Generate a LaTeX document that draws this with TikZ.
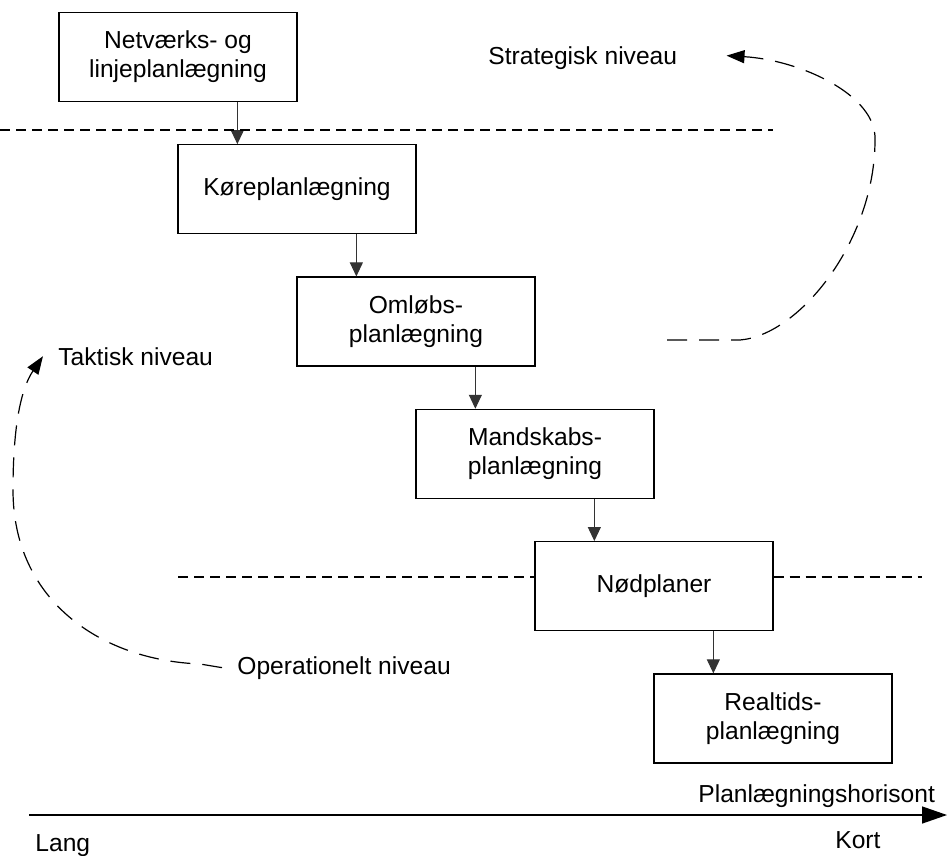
\documentclass[tikz,border=0pt]{standalone}
\usepackage{fontspec}
\setmainfont{Liberation Sans}
\usetikzlibrary{positioning}
\usetikzlibrary{arrows.meta}

\tikzset{
  planbox/.style={rectangle, draw, line width=0.65pt, minimum width=119pt, minimum height=44.5pt, align=center, font=\fontsize{12.3}{14.5}\selectfont},
  flow/.style={->, draw=black!80, line width=0.5pt},
  tier/.style={font=\fontsize{12.3}{14.5}\selectfont, inner sep=0pt, anchor=base west},
  divider/.style={line width=0.6pt, dash pattern=on 5pt off 3pt},
  feedback/.style={-{Triangle[length=9pt,width=6.5pt]}, line width=0.6pt, dash pattern=on 10pt off 6pt},
}

\begin{document}
\begin{tikzpicture}[x=0.5pt,y=-0.5pt,>={Triangle[length=7pt,width=6.5pt]}]
	\useasboundingbox (0,0) rectangle (947,856);
	% planning boxes
	\node [planbox] (netv) at (178,57) {Netværks- og\\linjeplanlægning};
	\node [planbox, below=21pt of netv, xshift=59.5pt] (kore) {Køreplanlægning};
	\node [planbox, below=21pt of kore, xshift=59.5pt] (omlob) {Omløbs-\\planlægning};
	\node [planbox, below=21pt of omlob, xshift=59.5pt] (mand) {Mandskabs-\\planlægning};
	\node [planbox, below=21pt of mand, xshift=59.5pt] (nod) {Nødplaner};
	\node [planbox, below=21pt of nod, xshift=59.5pt] (real) {Realtids-\\planlægning};
	\foreach \a/\b in {netv/kore, kore/omlob, omlob/mand, mand/nod, nod/real}{
		\coordinate (tip) at ([xshift=30pt]\b.north west);
		\draw [flow] (tip |- \a.south) -- (tip);
	}
	% levels
	\coordinate (d1) at (0,130);
	\coordinate (d2) at (178,577);
	\coordinate (d3) at (922,577);
	\draw [divider] (d1) -- (773,130);
	\draw [divider] (d2) -- (d2 -| nod.west);
	\draw [divider] (d3 -| nod.east) -- (d3);
	\node [tier] (strat) at (488,65) {Strategisk niveau};
	\node [tier] (takt) at (58,365) {Taktisk niveau};
	\node [tier] (oper) at (237,674) {Operationelt niveau};
	\coordinate (sstart) at (667,340);
	\draw [feedback] (sstart) -- (740,340) .. controls (800,335) and (875,240) .. (875,140)
		.. controls (877,95) and (800,60) .. ([xshift=24.5pt,yshift=1.5pt]strat.east);
	\draw [feedback] ([xshift=-7.5pt]oper.west) -- (200,664) .. controls (100,660) and (13,600) .. (13,490)
		.. controls (13,430) and (20,390) .. ([xshift=-7.5pt]takt.west);
	% horizon
	\coordinate (hstart) at (29,815);
	\coordinate (hend) at (947,815);
	\draw [line width=0.7pt, -{Triangle[length=12.5pt,width=8.5pt]}] (hstart) -- (hend);
	\node [tier] (horiz) at (698,802) {Planlægningshorisont};
	\node [tier] (lang) at (35,851) {Lang};
	\node [tier] (kort) at (835,848) {Kort};
\end{tikzpicture}
\end{document}
